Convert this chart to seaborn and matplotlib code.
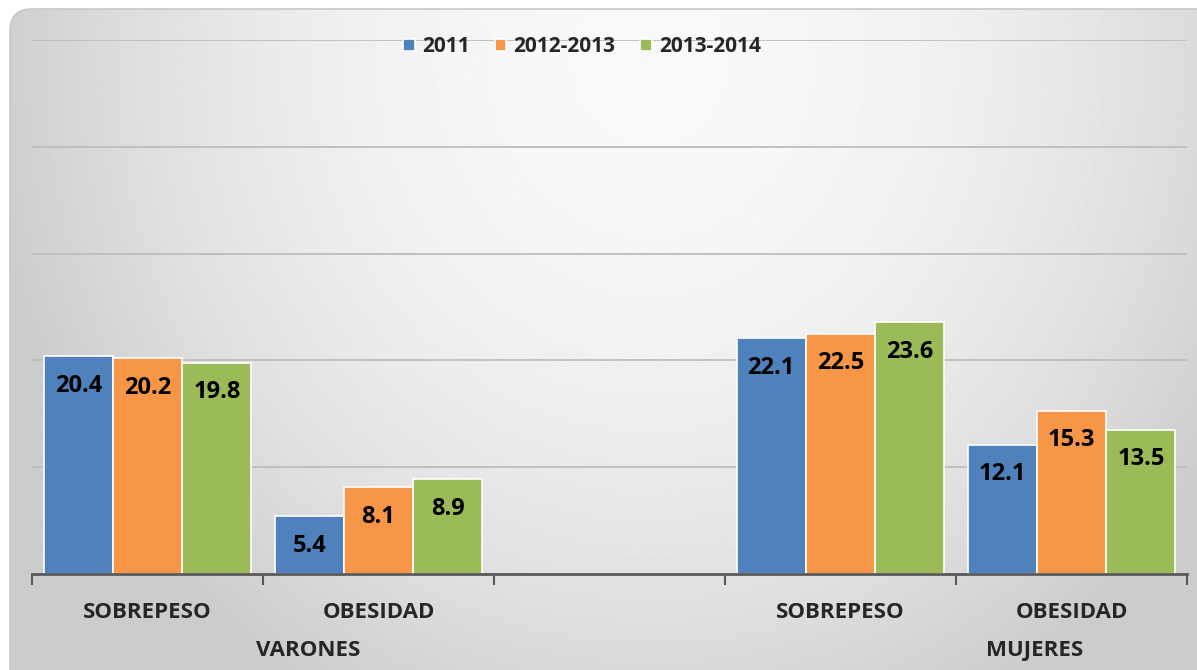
import numpy as np
import pandas as pd
import seaborn as sns
import matplotlib.pyplot as plt
from matplotlib.patches import FancyBboxPatch

# data
categorias = ["V_SOBREPESO", "V_OBESIDAD", "VACIO", "M_SOBREPESO", "M_OBESIDAD"]
etiquetas = ["SOBREPESO", "OBESIDAD", "", "SOBREPESO", "OBESIDAD"]
periodos = ["2011", "2012-2013", "2013-2014"]
v_2011 = [20.4, 5.4, 22.1, 12.1]
v_2012_2013 = [20.2, 8.1, 22.5, 15.3]
v_2013_2014 = [19.8, 8.9, 23.6, 13.5]
cats_con_datos = ["V_SOBREPESO", "V_OBESIDAD", "M_SOBREPESO", "M_OBESIDAD"]
grupos = ["VARONES", "MUJERES"]
colores = ["#4F81BD", "#F79646", "#9BBB59"]

rows = []
for per, vals in zip(periodos, [v_2011, v_2012_2013, v_2013_2014]):
    for c, v in zip(cats_con_datos, vals):
        rows.append({"cat": c, "periodo": per, "valor": v})
df = pd.DataFrame(rows)

sns.set_style("white")
plt.rcParams["font.family"] = ["Open Sans", "DejaVu Sans"]

fig = plt.figure(figsize=(11.97, 6.7), dpi=100)

# background with gradient and rounded border
bg = fig.add_axes([0, 0, 1, 1], zorder=-10)
bg.set_xlim(0, 1197)
bg.set_ylim(670, 0)
bg.axis("off")
xx, yy = np.meshgrid(np.linspace(0, 1197, 600), np.linspace(0, 670, 340))
r2 = ((xx - 650) / 640) ** 2 + ((yy - 60) / 700) ** 2
img = np.clip(0.975 - 0.16 * r2, 0.80, 1.0)
box = FancyBboxPatch((10, 9), 1220, 700, boxstyle="round,pad=0,rounding_size=22",
                     facecolor="none", edgecolor="#c8c8c8", linewidth=1.2)
bg.add_patch(box)
im = bg.imshow(img, cmap="gray", vmin=0, vmax=1, extent=[0, 1197, 670, 0],
               aspect="auto", interpolation="bilinear")
im.set_clip_path(box)

ax = fig.add_axes([32 / 1197, 1 - 574 / 670, (1187 - 32) / 1197, (574 - 40) / 670])
ax.patch.set_alpha(0)
sns.barplot(data=df, x="cat", y="valor", hue="periodo", order=categorias,
            hue_order=periodos, palette=colores, saturation=1, width=0.9,
            edgecolor="white", linewidth=1.2, ax=ax, zorder=3)

ax.set_ylim(0, 50)
ax.set_xlim(-0.5, 4.5)
ax.set_yticks([])
for y in [10, 20, 30, 40, 50]:
    ax.axhline(y, color="#bdbdbd", linewidth=1.3, zorder=1)
for s in ["top", "right", "left"]:
    ax.spines[s].set_visible(False)
ax.spines["bottom"].set_color("#595959")
ax.spines["bottom"].set_linewidth(2)
ax.spines["bottom"].set_zorder(4)

# ticks at category boundaries, labels at centers
ax.set_xticks(np.arange(-0.5, 5.0, 1.0))
ax.set_xticklabels([])
ax.tick_params(axis="x", which="major", direction="out", length=8, width=1.5,
               color="#595959", bottom=True)
ax.set_xticks(np.arange(5), minor=True)
ax.set_xticklabels(etiquetas, minor=True)
ax.tick_params(axis="x", which="minor", length=0, pad=20, labelsize=16)
for t in ax.get_xticklabels(minor=True):
    t.set_fontweight("bold")
ax.set_xlabel("")
ax.set_ylabel("")

for cont in ax.containers:
    ax.bar_label(cont, fmt="%.1f", label_type="edge", padding=-30,
                 fontsize=17, fontweight="bold", color="black")

ax.text(0.695, -0.143, grupos[0], transform=ax.get_xaxis_transform(),
        ha="center", va="center", fontsize=16, fontweight="bold")
ax.text(3.84, -0.143, grupos[1], transform=ax.get_xaxis_transform(),
        ha="center", va="center", fontsize=16, fontweight="bold")

leg = ax.legend(loc="center", bbox_to_anchor=(582 / 1197, 1 - 47 / 670),
                bbox_transform=fig.transFigure, ncol=3, frameon=False,
                prop={"size": 15, "weight": "bold"}, handlelength=0.55,
                handleheight=0.55, handletextpad=0.35, columnspacing=1.2)

fig.savefig("out.png", dpi=100)
